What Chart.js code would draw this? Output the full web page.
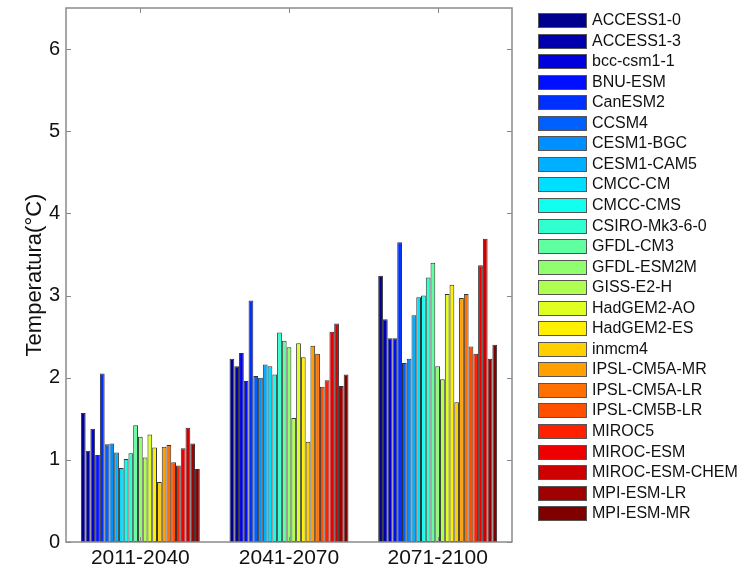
<!DOCTYPE html>
<html lang="en">
<head>
    <meta charset="UTF-8">
    <title>Temperatura por periodo</title>
    <script src="https://cdn.jsdelivr.net/npm/chart.js"></script>
    <style>
        html, body { margin: 0; padding: 0; background: #fff; }
        #wrap { width: 749px; height: 571px; position: relative; }
    </style>
</head>
<body>
    <div id="wrap"><canvas id="chart" width="749" height="571"></canvas></div>

    <script>
        // periods on the x axis
        const periods = ['2011-2040', '2041-2070', '2071-2100'];

        // GCM names, in legend order
        const models = [
            'ACCESS1-0', 'ACCESS1-3', 'bcc-csm1-1', 'BNU-ESM', 'CanESM2', 'CCSM4',
            'CESM1-BGC', 'CESM1-CAM5', 'CMCC-CM', 'CMCC-CMS', 'CSIRO-Mk3-6-0',
            'GFDL-CM3', 'GFDL-ESM2M', 'GISS-E2-H', 'HadGEM2-AO', 'HadGEM2-ES',
            'inmcm4', 'IPSL-CM5A-MR', 'IPSL-CM5A-LR', 'IPSL-CM5B-LR', 'MIROC5',
            'MIROC-ESM', 'MIROC-ESM-CHEM', 'MPI-ESM-LR', 'MPI-ESM-MR'
        ];

        // temperature change (°C) per model, one array per period
        const p2011_2040 = [1.57, 1.11, 1.38, 1.06, 2.05, 1.19, 1.20, 1.09, 0.90, 1.01, 1.08,
                            1.42, 1.28, 1.03, 1.31, 1.15, 0.73, 1.16, 1.18, 0.97, 0.93,
                            1.14, 1.39, 1.20, 0.89];
        const p2041_2070 = [2.23, 2.14, 2.30, 1.96, 2.94, 2.02, 2.00, 2.16, 2.14, 2.04, 2.55,
                            2.45, 2.37, 1.51, 2.42, 2.25, 1.22, 2.39, 2.29, 1.89, 1.97,
                            2.56, 2.66, 1.90, 2.04];
        const p2071_2100 = [3.24, 2.71, 2.48, 2.48, 3.65, 2.18, 2.23, 2.76, 2.98, 3.00, 3.22,
                            3.40, 2.14, 1.98, 3.02, 3.13, 1.70, 2.97, 3.02, 2.38, 2.29,
                            3.37, 3.69, 2.23, 2.40];

        const yTicks = [0, 1, 2, 3, 4, 5, 6];

        // matlab style jet(64) colour picked for series i of n
        function jetColor(i, n) {
            const k = Math.min(64, Math.floor(i / (n - 1) * 64) + 1);
            const u = j => (j < 1 || j > 47) ? 0 : (j <= 16 ? j / 16 : (j <= 31 ? 1 : (48 - j) / 16));
            const c = v => Math.round(v * 255);
            return `rgb(${c(u(k - 24))},${c(u(k - 8))},${c(u(k + 8))})`;
        }

        const datasets = models.map((name, i) => ({
            label: name,
            data: [p2011_2040[i], p2041_2070[i], p2071_2100[i]],
            backgroundColor: jetColor(i, models.length),
            borderColor: '#333',
            borderWidth: 1,
            borderSkipped: false,
            categoryPercentage: 0.8,
            barPercentage: 1.0
        }));

        // box, inward ticks and the legend on the right
        const framePlugin = {
            id: 'frame',
            afterDraw(chart) {
                const ctx = chart.ctx;
                const a = chart.chartArea;
                const x = chart.scales.x;
                const y = chart.scales.y;
                ctx.save();
                ctx.strokeStyle = '#8a8a8a';
                ctx.lineWidth = 1.5;
                ctx.strokeRect(a.left, a.top, a.right - a.left, a.bottom - a.top);
                ctx.lineWidth = 1;
                yTicks.forEach(v => {
                    const py = Math.round(y.getPixelForValue(v)) + 0.5;
                    ctx.beginPath();
                    ctx.moveTo(a.left, py); ctx.lineTo(a.left + 5, py);
                    ctx.moveTo(a.right, py); ctx.lineTo(a.right - 5, py);
                    ctx.stroke();
                });
                periods.forEach((p, i) => {
                    const px = Math.round(x.getPixelForValue(i)) + 0.5;
                    ctx.beginPath();
                    ctx.moveTo(px, a.top); ctx.lineTo(px, a.top + 5);
                    ctx.moveTo(px, a.bottom); ctx.lineTo(px, a.bottom - 5);
                    ctx.stroke();
                });

                // legend
                const lx = 538, ly = 13, rowH = 20.55;
                ctx.font = '16px "Liberation Sans", Arial, sans-serif';
                ctx.textBaseline = 'middle';
                ctx.textAlign = 'left';
                chart.data.datasets.forEach((ds, i) => {
                    const top = Math.round(ly + i * rowH);
                    ctx.fillStyle = ds.backgroundColor;
                    ctx.fillRect(lx, top, 49, 15);
                    ctx.strokeStyle = '#555';
                    ctx.strokeRect(lx + 0.5, top + 0.5, 48, 14);
                    ctx.fillStyle = '#111';
                    ctx.fillText(ds.label, lx + 54, top + 8);
                });
                ctx.restore();
            }
        };

        new Chart(document.getElementById('chart'), {
            type: 'bar',
            data: { labels: periods, datasets: datasets },
            options: {
                responsive: false,
                animation: false,
                layout: { padding: { top: 8, right: 237, left: 0, bottom: 0 } },
                plugins: {
                    legend: { display: false },
                    tooltip: { enabled: false }
                },
                scales: {
                    x: {
                        grid: { display: false, drawTicks: false },
                        border: { display: false },
                        ticks: {
                            color: '#111',
                            padding: 4,
                            font: { family: '"Liberation Sans", Arial, sans-serif', size: 21 }
                        },
                        afterFit: s => { s.height = 29; s.paddingLeft = 0; s.paddingRight = 0; }
                    },
                    y: {
                        min: 0,
                        max: 6.5,
                        afterBuildTicks: s => { s.ticks = yTicks.map(v => ({ value: v })); },
                        grid: { display: false, drawTicks: false },
                        border: { display: false },
                        ticks: {
                            color: '#111',
                            padding: 6,
                            font: { family: '"Liberation Sans", Arial, sans-serif', size: 20 }
                        },
                        title: {
                            display: true,
                            text: 'Temperatura(°C)',
                            color: '#111',
                            padding: { top: 22, bottom: 0 },
                            font: { family: '"Liberation Sans", Arial, sans-serif', size: 22 }
                        },
                        afterFit: s => { s.width = 66; s.paddingTop = 0; s.paddingBottom = 0; }
                    }
                }
            },
            plugins: [framePlugin]
        });
    </script>
</body>
</html>
